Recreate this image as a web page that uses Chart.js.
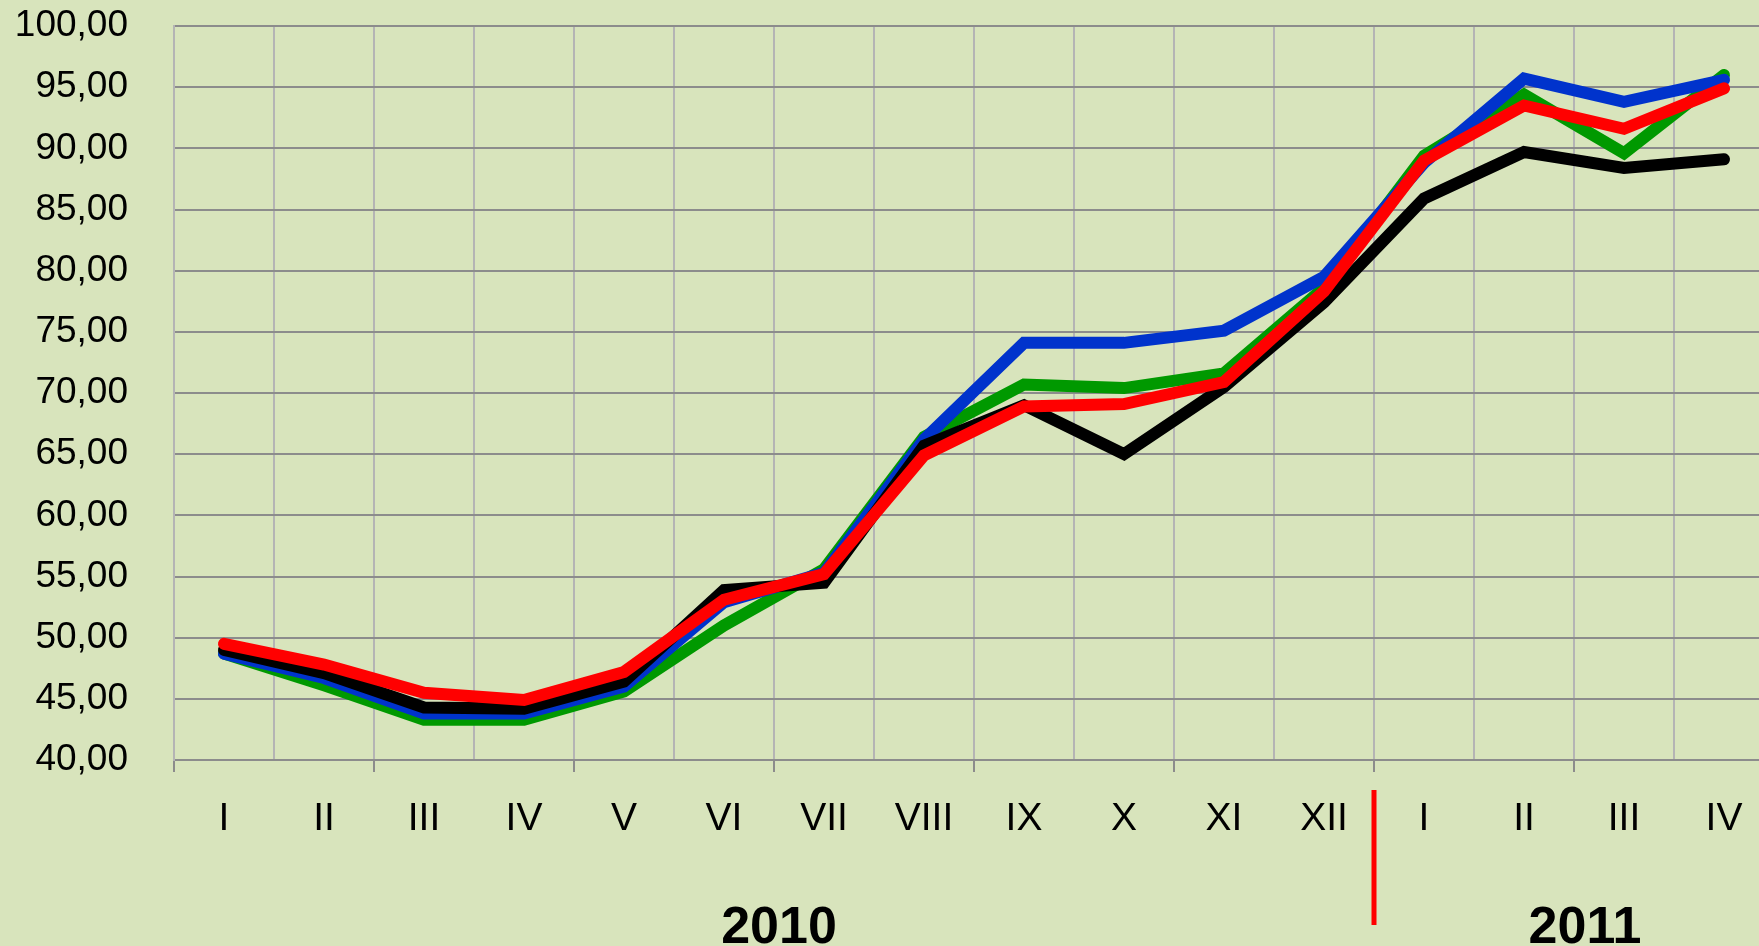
<!DOCTYPE html>
<html>
<head>
<meta charset="utf-8">
<script src="https://cdn.jsdelivr.net/npm/chart.js@4/dist/chart.umd.min.js"></script>
<style>
  html, body { margin: 0; padding: 0; background: #D8E4BC; overflow: hidden; width: 1759px; height: 946px; }
  #wrap { position: absolute; left: 0; top: 0; width: 1774px; height: 946px; }
</style>
</head>
<body>
<div id="wrap"><canvas id="c" width="1774" height="946"></canvas></div>
<script>
const categories = ['I','II','III','IV','V','VI','VII','VIII','IX','X','XI','XII','I','II','III','IV'];
const yearLabels = ['2010', '2011'];
const yearSpans = [[0, 11], [12, 15]];
const yTickValues = [40,45,50,55,60,65,70,75,80,85,90,95,100];

const redSeries   = [49.5, 47.8, 45.5, 44.9, 47.2, 53.1, 55.2, 64.9, 68.9, 69.1, 70.9, 78.3, 89.0, 93.5, 91.6, 94.9];
const blackSeries = [49.0, 47.1, 44.3, 44.2, 46.4, 53.9, 54.5, 65.7, 69.0, 65.0, 70.5, 77.4, 85.9, 89.7, 88.4, 89.1];
const blueSeries  = [48.7, 46.7, 43.8, 43.8, 46.0, 52.9, 55.3, 66.2, 74.1, 74.1, 75.1, 79.5, 88.8, 95.7, 93.8, 95.6];
const greenSeries = [48.7, 46.1, 43.3, 43.3, 45.6, 51.0, 55.6, 66.4, 70.7, 70.4, 71.6, 78.6, 89.4, 94.4, 89.6, 96.0];

const FONT = "'Liberation Sans', Arial, sans-serif";

function ds(data, color) {
  return {
    data: data,
    borderColor: color,
    backgroundColor: color,
    borderWidth: 12,
    borderCapStyle: 'round',
    borderJoinStyle: 'miter',
    pointRadius: 0,
    pointHoverRadius: 0,
    tension: 0,
    fill: false
  };
}

const yearPlugin = {
  id: 'yearPlugin',
  afterDraw(chart) {
    const ctx = chart.ctx;
    const xs = chart.scales.x;
    const area = chart.chartArea;
    ctx.save();
    const sepX = (xs.getPixelForValue(yearSpans[0][1]) + xs.getPixelForValue(yearSpans[1][0])) / 2;
    ctx.strokeStyle = '#FF0000';
    ctx.lineWidth = 5;
    ctx.beginPath();
    ctx.moveTo(sepX, area.bottom + 30);
    ctx.lineTo(sepX, area.bottom + 165);
    ctx.stroke();
    ctx.fillStyle = '#000000';
    ctx.font = 'bold 52px ' + FONT;
    ctx.textAlign = 'center';
    ctx.textBaseline = 'alphabetic';
    const offs = [5, 11];
    yearLabels.forEach((lab, i) => {
      const cx = (xs.getPixelForValue(yearSpans[i][0]) + xs.getPixelForValue(yearSpans[i][1])) / 2 + offs[i];
      ctx.fillText(lab, cx, area.bottom + 183);
    });
    ctx.restore();
  }
};

new Chart(document.getElementById('c'), {
  type: 'line',
  data: {
    labels: categories,
    datasets: [
      ds(redSeries, '#FF0000'),
      ds(blackSeries, '#000000'),
      ds(blueSeries, '#0033CC'),
      ds(greenSeries, '#009900')
    ]
  },
  options: {
    responsive: false,
    animation: false,
    devicePixelRatio: 1,
    layout: { padding: { top: 26, right: 0, left: 0, bottom: 0 } },
    plugins: {
      legend: { display: false },
      tooltip: { enabled: false },
      title: { display: false }
    },
    scales: {
      x: {
        offset: true,
        afterFit(scale) { scale.height = 186; },
        grid: {
          offset: true,
          color: '#B4B4B4',
          lineWidth: 2,
          drawTicks: true,
          tickLength: 12,
          tickWidth: 2,
          tickColor: (ctx) => (ctx.index % 2 === 0 ? '#8C8C8C' : 'rgba(0,0,0,0)')
        },
        border: { display: true, color: '#8C8C8C', width: 2 },
        ticks: {
          color: '#000000',
          font: { family: FONT, size: 39 },
          padding: 24,
          maxRotation: 0,
          autoSkip: false
        }
      },
      y: {
        min: 40,
        max: 100,
        afterFit(scale) {
          scale.width = 174;
          scale.paddingTop = 0;
          scale.paddingBottom = 0;
        },
        afterBuildTicks(scale) { scale.ticks = yTickValues.map(v => ({ value: v })); },
        grid: {
          color: '#8C8C8C',
          lineWidth: 2,
          drawTicks: false
        },
        border: { display: true, color: '#B4B4B4', width: 2 },
        ticks: {
          color: '#000000',
          font: { family: FONT, size: 37 },
          padding: 46,
          callback: (v) => Number(v).toFixed(2).replace('.', ',')
        }
      }
    }
  },
  plugins: [yearPlugin]
});
</script>
</body>
</html>
